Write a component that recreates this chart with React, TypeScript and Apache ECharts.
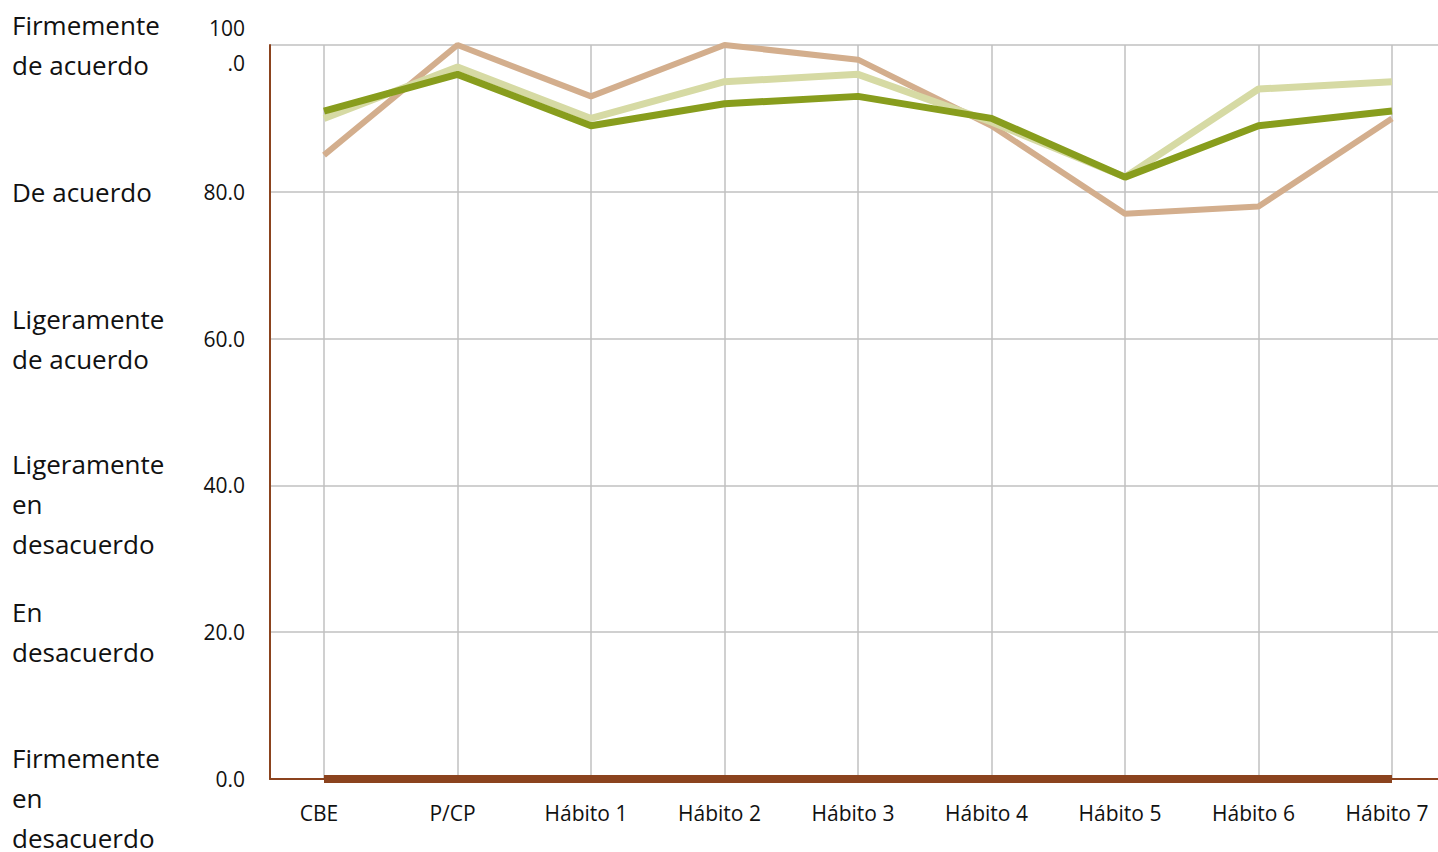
import React, { useEffect, useRef } from "react";
import * as echarts from "echarts";

const categories = ["CBE", "P/CP", "Hábito 1", "Hábito 2", "Hábito 3", "Hábito 4", "Hábito 5", "Hábito 6", "Hábito 7"];
const seriesTan = [85, 100, 93, 100, 98, 89, 77, 78, 90];
const seriesLight = [90, 97, 90, 95, 96, 89.5, 82, 94, 95];
const seriesDark = [91, 96, 89, 92, 93, 90, 82, 89, 91];
const baseline = [0, 0, 0, 0, 0, 0, 0, 0, 0];
const yTicks = [0, 20, 40, 60, 80, 100];
const scaleLabels = [
  "Firmemente\nen\ndesacuerdo",
  "En\ndesacuerdo",
  "Ligeramente\nen\ndesacuerdo",
  "Ligeramente\nde acuerdo",
  "De acuerdo",
  "Firmemente\nde acuerdo",
];

const FONT = '"Open Sans", "Noto Sans", sans-serif';
const TOP = 45;
const BOTTOM_Y = 779;
const BROWN = "#8B431E";

export default function App() {
  const ref = useRef<HTMLDivElement>(null);
  useEffect(() => {
    if (!ref.current) return;
    const chart = echarts.init(ref.current, null, { renderer: "svg" });
    const h = BOTTOM_Y - TOP;
    const graphics = yTicks.map((v, i) => {
      const lines = scaleLabels[i].split("\n").length;
      return {
        type: "text",
        style: {
          text: scaleLabels[i],
          x: 12,
          y: TOP + ((100 - v) / 100) * h + (lines === 3 ? 19 : 0),
          font: `26px ${FONT}`,
          fill: "#111",
          lineHeight: 40,
          verticalAlign: "middle",
          align: "left",
        },
      };
    });
    chart.setOption({
      animation: false,
      backgroundColor: "#fff",
      grid: [
        { left: 270, right: 0, top: TOP, bottom: 852 - BOTTOM_Y },
        { left: 324, right: 46, top: TOP, bottom: 852 - BOTTOM_Y },
      ],
      xAxis: [
        {
          type: "category",
          gridIndex: 0,
          data: categories,
          boundaryGap: false,
          axisLine: { show: true, lineStyle: { color: BROWN, width: 2 } },
          axisTick: { show: false },
          axisLabel: { show: false },
          splitLine: { show: false },
        },
        {
          type: "category",
          gridIndex: 1,
          data: categories,
          boundaryGap: false,
          axisLine: { show: false },
          axisTick: { show: false },
          axisLabel: {
            color: "#111",
            fontFamily: FONT,
            fontSize: 21,
            margin: 23,
            padding: [0, 10, 0, 0],
          },
          splitLine: { show: true, lineStyle: { color: "#C0C0C0", width: 1.5 } },
        },
      ],
      yAxis: [
        {
          type: "value",
          gridIndex: 0,
          min: 0,
          max: 100,
          interval: 20,
          axisLine: { show: true, lineStyle: { color: BROWN, width: 2 } },
          axisTick: { show: false },
          axisLabel: {
            color: "#111",
            fontFamily: FONT,
            fontSize: 21,
            margin: 25,
            lineHeight: 35,
            formatter: (v: number) => (v === 100 ? "100\n.0" : v.toFixed(1)),
          },
          splitLine: { show: true, lineStyle: { color: "#C0C0C0", width: 1.5 } },
        },
        {
          type: "value",
          gridIndex: 1,
          min: 0,
          max: 100,
          interval: 20,
          show: false,
          splitLine: { show: false },
        },
      ],
      graphic: graphics,
      series: [
        {
          type: "line",
          xAxisIndex: 1,
          yAxisIndex: 1,
          data: seriesTan,
          symbol: "none",
          lineStyle: { color: "#D3AE8D", width: 6 },
        },
        {
          type: "line",
          xAxisIndex: 1,
          yAxisIndex: 1,
          data: seriesLight,
          symbol: "none",
          lineStyle: { color: "#D6DAA4", width: 7 },
        },
        {
          type: "line",
          xAxisIndex: 1,
          yAxisIndex: 1,
          data: seriesDark,
          symbol: "none",
          lineStyle: { color: "#889D1D", width: 7 },
        },
        {
          type: "line",
          xAxisIndex: 1,
          yAxisIndex: 1,
          data: baseline,
          symbol: "none",
          lineStyle: { color: BROWN, width: 8 },
        },
      ],
    });
    return () => chart.dispose();
  }, []);
  return (
    <div
      ref={ref}
      style={{ position: "fixed", left: 0, top: 0, width: 1438, height: 852 }}
    />
  );
}
